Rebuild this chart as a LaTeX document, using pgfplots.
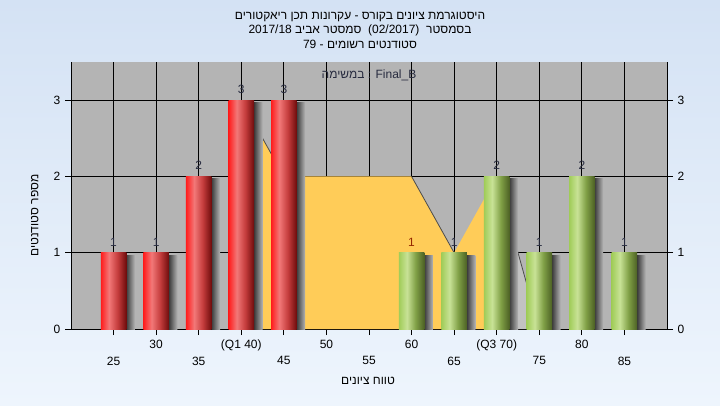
\documentclass[border=0pt]{standalone}
\usepackage{fontspec}
\setmainfont{Liberation Sans}
\newfontfamily\heb[Script=Hebrew]{Liberation Sans}
\TeXXeTstate=1
\usepackage{pgfplots}
\pgfplotsset{compat=1.18}

\definecolor{bgtop}{RGB}{212,226,244}
\definecolor{bgbot}{RGB}{238,245,253}
\definecolor{plotgray}{RGB}{180,180,180}
\definecolor{areayel}{RGB}{255,204,88}
\definecolor{lightgr}{RGB}{194,194,194}
\definecolor{lbl}{RGB}{40,44,64}
\definecolor{lblred}{RGB}{150,40,0}
\definecolor{rA}{RGB}{255,28,28}
\definecolor{rB}{RGB}{242,120,120}
\definecolor{rC}{RGB}{196,60,60}
\definecolor{rD}{RGB}{110,12,12}
\definecolor{gA}{RGB}{160,204,88}
\definecolor{gB}{RGB}{200,226,150}
\definecolor{gC}{RGB}{128,160,70}
\definecolor{gD}{RGB}{76,96,36}
\definecolor{sA}{RGB}{60,60,60}
\definecolor{sB}{RGB}{180,180,180}

% shadings: the bar's box maps to 25bp..75bp
\pgfdeclarehorizontalshading{redcyl}{100bp}{color(0bp)=(rA); color(25bp)=(rA); color(41bp)=(rB); color(58bp)=(rC); color(75bp)=(rD); color(100bp)=(rD)}
\pgfdeclarehorizontalshading{greencyl}{100bp}{color(0bp)=(gA); color(25bp)=(gA); color(41bp)=(gB); color(58bp)=(gC); color(75bp)=(gD); color(100bp)=(gD)}
\pgfdeclarehorizontalshading{shadow}{100bp}{color(0bp)=(sA); color(25bp)=(sA); color(75bp)=(sB); color(100bp)=(sB)}

\tikzset{lblfont/.style={font=\fontsize{9}{10}\selectfont}}
\pgfplotsset{
  shad/.style={ybar, bar width=1, bar shift=2, draw=none, shading=shadow},
  redbar/.style={ybar, bar width=3, bar shift=0, draw=none, shading=redcyl,
    nodes near coords, every node near coord/.append style={lblfont, text=lbl, yshift=1.5pt}},
  grnbar/.style={ybar, bar width=3, bar shift=0, draw=none, shading=greencyl,
    nodes near coords, every node near coord/.append style={lblfont, text=lbl, yshift=1.5pt}},
}

\begin{document}
\begin{tikzpicture}
\shade[top color=bgtop, bottom color=bgbot] (0,0) rectangle (540pt,303.75pt);
\path[use as bounding box] (0,0) rectangle (540pt,303.75pt);

\node[lblfont] at (270pt,291pt) {\heb\beginR היסטוגרמת ציונים בקורס - עקרונות תכן ריאקטורים\endR};
\node[lblfont] at (270pt,281pt) {\heb\beginR בסמסטר\ \ \beginL(02/2017)\endL\ \ סמסטר אביב \beginL2017/18\endL\endR};
\node[lblfont] at (270pt,270.5pt) {\heb\beginR סטודנטים רשומים - \beginL79\endL\endR};
\node[lblfont] at (276pt,18pt) {\heb\beginR טווח ציונים\endR};
\node[lblfont, rotate=90] at (26pt,142pt) {\heb\beginR מספר סטודנטים\endR};

\begin{axis}[
  at={(53.25pt,57pt)}, anchor=south west,
  width=447pt, height=200.25pt, scale only axis,
  xmin=20, xmax=90, ymin=0, ymax=3.5,
  axis x line=bottom, axis y line=left,
  axis line style={-, black, line width=0.75pt},
  axis background/.style={fill=plotgray},
  tick align=outside, major tick length=4.5pt,
  tick style={black, line width=0.75pt},
  xtick={30,40,50,60,70,80},
  xticklabels={30,(Q1 40),50,60,(Q3 70),80},
  extra x ticks={25,35,45,55,65,75,85},
  extra x tick style={grid=major, tick label style={yshift=-12.75pt}},
  ytick={0,1,2,3},
  grid=major,
  major grid style={black, line width=0.75pt},
  tick label style={font=\fontsize{9}{10}\selectfont, black},
  /pgf/number format/assume math mode=true,
  clip=false,
]
% yellow interquartile area
\addplot[fill=areayel, draw=none] coordinates {(40,0) (40,3) (45,2) (50,2) (55,2) (60,2) (65,1) (70,2) (70,0)} \closedcycle;
\addplot[fill=lightgr, draw=none] coordinates {(70,0) (70,2) (75,0)} \closedcycle;
\addplot[draw=black!70, line width=0.6pt] coordinates {(40,3) (45,2)};
\addplot[draw=black!70, line width=0.6pt] coordinates {(60,2) (65,1)};
\addplot[draw=black!70, line width=0.6pt] coordinates {(70,2) (75,0)};

% shadows, one per bar
\addplot[shad] coordinates {(25,0.97)};
\addplot[shad] coordinates {(30,0.97)};
\addplot[shad] coordinates {(35,1.97)};
\addplot[shad] coordinates {(40,2.97)};
\addplot[shad] coordinates {(45,2.97)};
\addplot[shad] coordinates {(60,0.97)};
\addplot[shad] coordinates {(65,0.97)};
\addplot[shad] coordinates {(70,1.97)};
\addplot[shad] coordinates {(75,0.97)};
\addplot[shad] coordinates {(80,1.97)};
\addplot[shad] coordinates {(85,0.97)};

% bars, one per plot so each gets its own shading
\addplot[redbar] coordinates {(25,1)};
\addplot[redbar] coordinates {(30,1)};
\addplot[redbar] coordinates {(35,2)};
\addplot[redbar] coordinates {(40,3)};
\addplot[redbar] coordinates {(45,3)};
\addplot[grnbar, every node near coord/.append style={text=lblred}] coordinates {(60,1)};
\addplot[grnbar] coordinates {(65,1)};
\addplot[grnbar] coordinates {(70,2)};
\addplot[grnbar] coordinates {(75,1)};
\addplot[grnbar] coordinates {(80,2)};
\addplot[grnbar] coordinates {(85,1)};

\node[lblfont, text=lbl] at (rel axis cs:0.5,0.95) {\heb\beginR במשימה\endR{} : Final\_B};
\end{axis}

\begin{axis}[
  at={(53.25pt,57pt)}, anchor=south west,
  width=447pt, height=200.25pt, scale only axis,
  xmin=20, xmax=90, ymin=0, ymax=3.5,
  axis x line=none, axis y line=right,
  axis line style={-, black, line width=0.75pt},
  tick align=outside, major tick length=4.5pt,
  tick style={black, line width=0.75pt},
  ytick={0,1,2,3},
  tick label style={font=\fontsize{9}{10}\selectfont, black},
  /pgf/number format/assume math mode=true,
]
\addplot[draw=none] coordinates {(20,0)};
\end{axis}
\end{tikzpicture}
\end{document}
